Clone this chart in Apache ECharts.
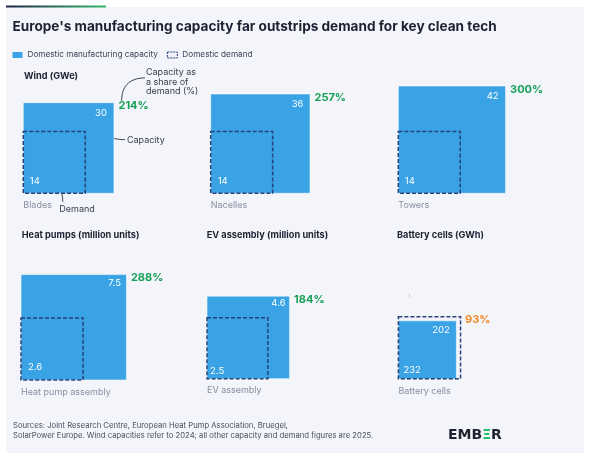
<!DOCTYPE html>
<html><head><meta charset="utf-8">
<script src="https://cdn.jsdelivr.net/npm/echarts@6/dist/echarts.min.js"></script>
<style>html,body{margin:0;padding:0;background:#fff}#c{width:589px;height:461px}</style>
</head><body><div id="c"></div>
<script>
// ---------------- DATA ----------------
const categories = ['Blades', 'Nacelles', 'Towers', 'Heat pump assembly', 'EV assembly', 'Battery cells'];
const groupTitles = ['Wind (GWe)', '', '', 'Heat pumps (million units)', 'EV assembly (million units)', 'Battery cells (GWh)'];
const capacity = [30, 36, 42, 7.5, 4.6, 202];
const demand = [14, 14, 14, 2.6, 2.5, 232];
const capacityShare = [214, 257, 300, 288, 184, 93];
const seriesNames = ['Domestic manufacturing capacity', 'Domestic demand'];

// ---------------- LAYOUT / STYLE ----------------
const FONT = 'Inter';
const BLUE = '#3aa3e5';
const NAVY = '#27407a';
const GREEN = '#17a058';
const ORANGE = '#f28a26';
const H = 125; // grid size px
const panels = [
  {x: 23.3, bottom: 193.3, k: 16.55, capIn: [7, 5], demIn: [6.5, 7.5]},
  {x: 210.7, bottom: 193.3, k: 16.55, capIn: [6.5, 5], demIn: [7, 7.5]},
  {x: 398.3, bottom: 193.3, k: 16.55, capIn: [7, 5.5], demIn: [6.5, 7.5]},
  {x: 21, bottom: 380, k: 38.5, capIn: [5.5, 3.5], demIn: [7, 7.5]},
  {x: 207, bottom: 378.7, k: 38.5, capIn: [4, 2.5], demIn: [3, 3]},
  {x: 398.4, bottom: 378.8, k: 4.08, capIn: [6.5, 4.5], demIn: [5, 3.2]}
];
const titlePos = [[24, 72], null, null, [21.7, 231], [206.7, 231], [397, 231]];

const grids = [], xAxes = [], yAxes = [], series = [];
panels.forEach((p, i) => {
  grids.push({left: p.x, top: p.bottom - H, width: H, height: H});
  xAxes.push({type: 'value', gridIndex: i, min: 0, max: H / p.k, show: false});
  yAxes.push({type: 'value', gridIndex: i, min: 0, max: H / p.k, show: false});
  // capacity square
  series.push({
    type: 'custom', name: seriesNames[0], xAxisIndex: i, yAxisIndex: i, z: 2,
    data: [[capacity[i]]],
    renderItem: function (params, api) {
      const v = api.value(0), s = Math.sqrt(v);
      const p0 = api.coord([0, 0]), p1 = api.coord([s, s]);
      return {type: 'group', children: [
        {type: 'rect', shape: {x: p0[0], y: p1[1], width: p1[0] - p0[0], height: p0[1] - p1[1]},
         style: {fill: BLUE, stroke: 'rgba(255,255,255,0.55)', lineWidth: 1}},
        {type: 'text', style: {text: String(v), x: p1[0] - p.capIn[0], y: p1[1] + p.capIn[1],
          align: 'right', verticalAlign: 'top', fill: '#ffffff', fontSize: 9.5, fontFamily: FONT}}
      ]};
    }
  });
  // demand square + labels
  series.push({
    type: 'custom', name: seriesNames[1], xAxisIndex: i, yAxisIndex: i, z: 3,
    data: [[demand[i], capacity[i], capacityShare[i]]],
    renderItem: function (params, api) {
      const d = api.value(0), c = api.value(1), sh = api.value(2);
      const sd = Math.sqrt(d), sc = Math.sqrt(c), sm = Math.max(sd, sc);
      const p0 = api.coord([0, 0]), pd = api.coord([sd, sd]), pm = api.coord([sm, sm]);
      return {type: 'group', children: [
        {type: 'rect', shape: {x: p0[0], y: pd[1], width: pd[0] - p0[0], height: p0[1] - pd[1]},
         style: {fill: 'none', stroke: NAVY, lineWidth: 1.5, lineDash: [4, 2]}},
        {type: 'text', style: {text: String(d), x: p0[0] + p.demIn[0], y: p0[1] - p.demIn[1],
          align: 'left', verticalAlign: 'bottom', fill: '#ffffff', fontSize: 9.5, fontFamily: FONT}},
        {type: 'text', style: {text: sh + '%', x: pm[0] + 4.5, y: pm[1] - 2,
          align: 'left', verticalAlign: 'top', fill: sh >= 100 ? GREEN : ORANGE,
          fontSize: 11, fontWeight: 700, fontFamily: FONT}},
        {type: 'text', style: {text: categories[i], x: p0[0], y: p0[1] + 7.5,
          align: 'left', verticalAlign: 'top', fill: '#8a8ea2', fontSize: 9, fontFamily: FONT}}
      ]};
    }
  });
});

const titles = [{
  text: "Europe's manufacturing capacity far outstrips demand for key clean tech",
  left: 12.5, top: 20, padding: 0,
  textStyle: {fontSize: 13.6, fontWeight: 700, color: '#1e2132', fontFamily: FONT}
}];
groupTitles.forEach((t, i) => {
  if (!t) return;
  titles.push({text: t, left: titlePos[i][0], top: titlePos[i][1], padding: 0,
    textStyle: {fontSize: 9.2, fontWeight: 700, color: '#1e2132', fontFamily: FONT}});
});

const chart = echarts.init(document.getElementById('c'), null, {renderer: 'canvas'});
chart.setOption({
  backgroundColor: '#ffffff',
  animation: false,
  title: titles,
  legend: {
    left: 12.5, top: 51, padding: 0, itemWidth: 10, itemHeight: 6, itemGap: 9, selectedMode: false,
    textStyle: {fontSize: 8.2, color: '#3d4257', fontFamily: FONT},
    data: [
      {name: seriesNames[0], icon: 'rect', itemStyle: {color: BLUE, borderWidth: 0}},
      {name: seriesNames[1], icon: 'rect', itemStyle: {color: '#eef0f8', borderColor: NAVY, borderWidth: 1, borderType: [2, 1]}}
    ]
  },
  grid: grids, xAxis: xAxes, yAxis: yAxes, series: series
});

// annotations anchored to the Blades squares
const sc0 = Math.sqrt(capacity[0]);
const cTR = chart.convertToPixel({gridIndex: 0}, [sc0, sc0]);
const org = chart.convertToPixel({gridIndex: 0}, [0, 0]);
const R = cTR[0], T = cTR[1], L = org[0], B = org[1];
const lineStyle = {stroke: '#2a2d3e', lineWidth: 0.9, fill: 'none'};
const txt = (t, x, y, extra) => Object.assign({type: 'text', x: x, y: y,
  style: Object.assign({text: t, fill: '#3a3d4f', fontSize: 9, fontFamily: FONT, lineHeight: 9.5}, extra || {})});

chart.setOption({
  graphic: [
    {type: 'rect', z: -10, shape: {x: 6, y: 7, width: 578, height: 446}, style: {fill: '#f4f5fa'}},
    {type: 'rect', z: -9, shape: {x: 6, y: 5.5, width: 100, height: 2},
     style: {fill: new echarts.graphic.LinearGradient(0, 0, 1, 0, [{offset: 0, color: '#1b2445'}, {offset: 1, color: '#34b86c'}])}},
    {type: 'bezierCurve', shape: {x1: R + 7.7, y1: T - 2, cpx1: R + 7.7, cpy1: T - 15, cpx2: R + 14, cpy2: T - 24.5, x2: R + 31, y2: T - 24.8}, style: lineStyle},
    txt('Capacity as\na share of\ndemand (%)', R + 32, T - 35, {verticalAlign: 'top'}),
    {type: 'bezierCurve', shape: {x1: R - 13.5, y1: T + 16, cpx1: R - 12.5, cpy1: T + 32, cpx2: R - 4, cpy2: T + 37, x2: R + 11, y2: T + 37}, style: lineStyle},
    txt('Capacity', R + 13, T + 37.5, {verticalAlign: 'middle'}),
    {type: 'bezierCurve', shape: {x1: L + 19, y1: B - 11.8, cpx1: L + 33, cpy1: B - 11.8, cpx2: L + 39.5, cpy2: B - 5, x2: L + 39.5, y2: B + 8.5}, style: lineStyle},
    txt('Demand', L + 36, B + 15.5, {verticalAlign: 'middle'}),
    {type: 'line', shape: {x1: 409.5, y1: 294.3, x2: 409.5, y2: 297.6}, style: {stroke: '#c4c6d0', lineWidth: 1}},
    {type: 'text', x: 13, y: 420.5, style: {text: 'Sources: Joint Research Centre, European Heat Pump Association, Bruegel,\nSolarPower Europe. Wind capacities refer to 2024; all other capacity and demand figures are 2025.',
      fill: '#4a4e60', fontSize: 7.7, lineHeight: 10, fontFamily: FONT, verticalAlign: 'top'}},
    {type: 'text', x: 448, y: 435.5, style: {text: '{d|EMB}{g|Ξ}{d|R}', verticalAlign: 'middle',
      rich: {d: {fontSize: 14, fontWeight: 700, fill: '#1f2230', fontFamily: 'DejaVu Sans'},
             g: {fontSize: 14, fontWeight: 700, fill: '#1fc06b', fontFamily: 'DejaVu Sans'}}}}
  ]
});
</script>
</body></html>
